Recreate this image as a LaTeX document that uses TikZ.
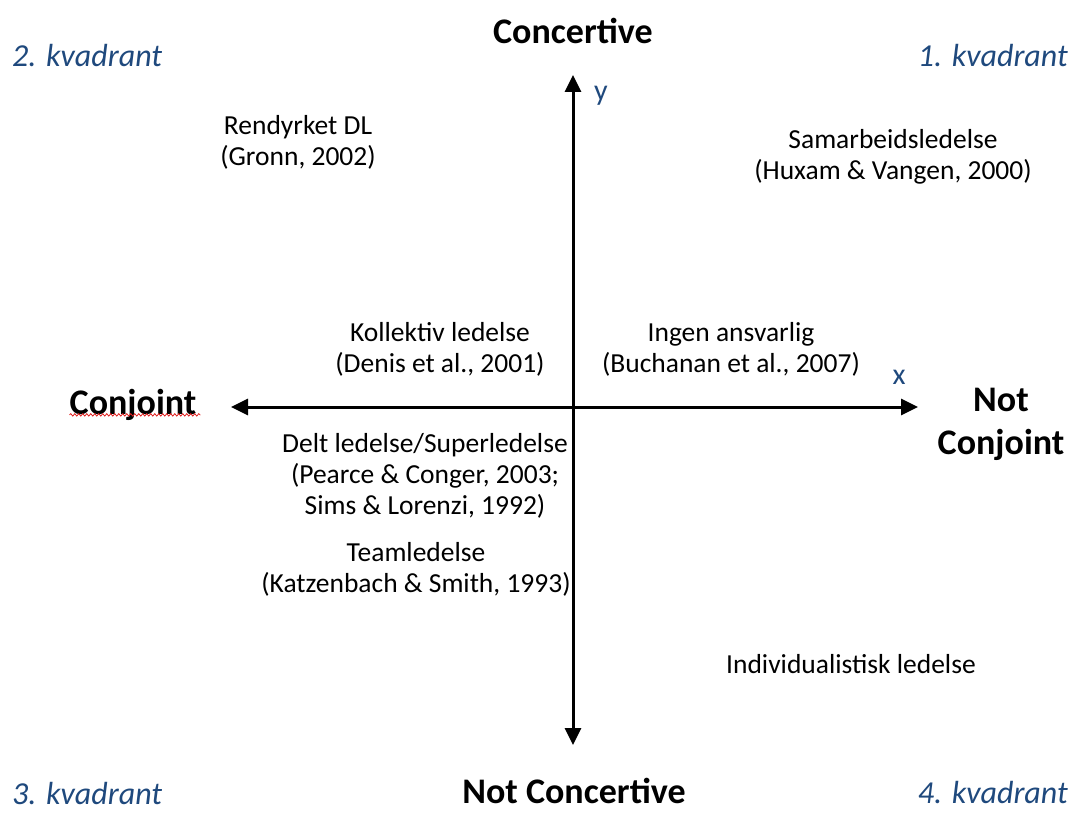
\documentclass[tikz,border=0pt]{standalone}
\usepackage{fontspec}
\setmainfont{Carlito}
\usetikzlibrary{arrows.meta,decorations.pathmorphing}
\definecolor{kblue}{HTML}{1F497D}
\definecolor{spellred}{HTML}{E02020}
\tikzset{
  lbl/.style={inner sep=0pt, align=center, font=\fontsize{27.5}{31}\selectfont},
  pole/.style={inner sep=0pt, align=center, font=\fontsize{36}{43}\selectfont\bfseries},
  quad/.style={inner sep=0pt, text=kblue, font=\fontsize{32}{36}\selectfont\itshape},
  axlbl/.style={inner sep=0pt, text=kblue, font=\fontsize{30}{34}\selectfont},
  axis/.style={line width=3pt, -{Triangle[length=17pt,width=16pt]}},
}
\begin{document}
\begin{tikzpicture}[x=1pt,y=-1pt]
\useasboundingbox (0,0) rectangle (1074,813);
\coordinate (o) at (573,407);
\coordinate (top) at (573,75);
\coordinate (bot) at (573,745);
\coordinate (left) at (231,407);
\coordinate (right) at (918,407);
\draw[axis] (o) -- (top);
\draw[axis] (o) -- (bot);
\draw[axis] (o) -- (left);
\draw[axis] (o) -- (right);

\node[axlbl] (ylab) at (601,96) {y};
\node[axlbl] (xlab) at (899,377) {x};

\node[pole] (conc) at (573,31) {Concertive};
\node[pole] (notconc) at (574,791) {Not Concertive};
\node[pole] (conj) at (133,405) {Conjoint};
\node[pole] (notconj) at (1001,424) {Not\\Conjoint};
\draw[spellred, line width=0.8pt, decorate, decoration={snake, amplitude=1.2pt, segment length=4pt}]
  ([yshift=6pt]conj.south west) -- ([yshift=6pt,xshift=4pt]conj.south east);

\node[quad, anchor=west] (q2) at (12,56) {2. kvadrant};
\node[quad, anchor=east] (q1) at (1068,56) {1. kvadrant};
\node[quad, anchor=west] (q3) at (12,794) {3. kvadrant};
\node[quad, anchor=east] (q4) at (1068,793) {4. kvadrant};

\node[lbl] (rend) at (298,142) {Rendyrket DL\\(Gronn, 2002)};
\node[lbl] (sam) at (893,157) {Samarbeidsledelse\\(Huxam \& Vangen, 2000)};
\node[lbl] (koll) at (440,349) {Kollektiv ledelse\\(Denis et al., 2001)};
\node[lbl] (ingen) at (731,349) {Ingen ansvarlig\\(Buchanan et al., 2007)};
\node[lbl] (delt) at (425,476) {Delt ledelse/Superledelse\\(Pearce \& Conger, 2003;\\Sims \& Lorenzi, 1992)};
\node[lbl] (team) at (416,569) {Teamledelse\\(Katzenbach \& Smith, 1993)};
\node[lbl] (indiv) at (851,664) {Individualistisk ledelse};
\end{tikzpicture}
\end{document}
